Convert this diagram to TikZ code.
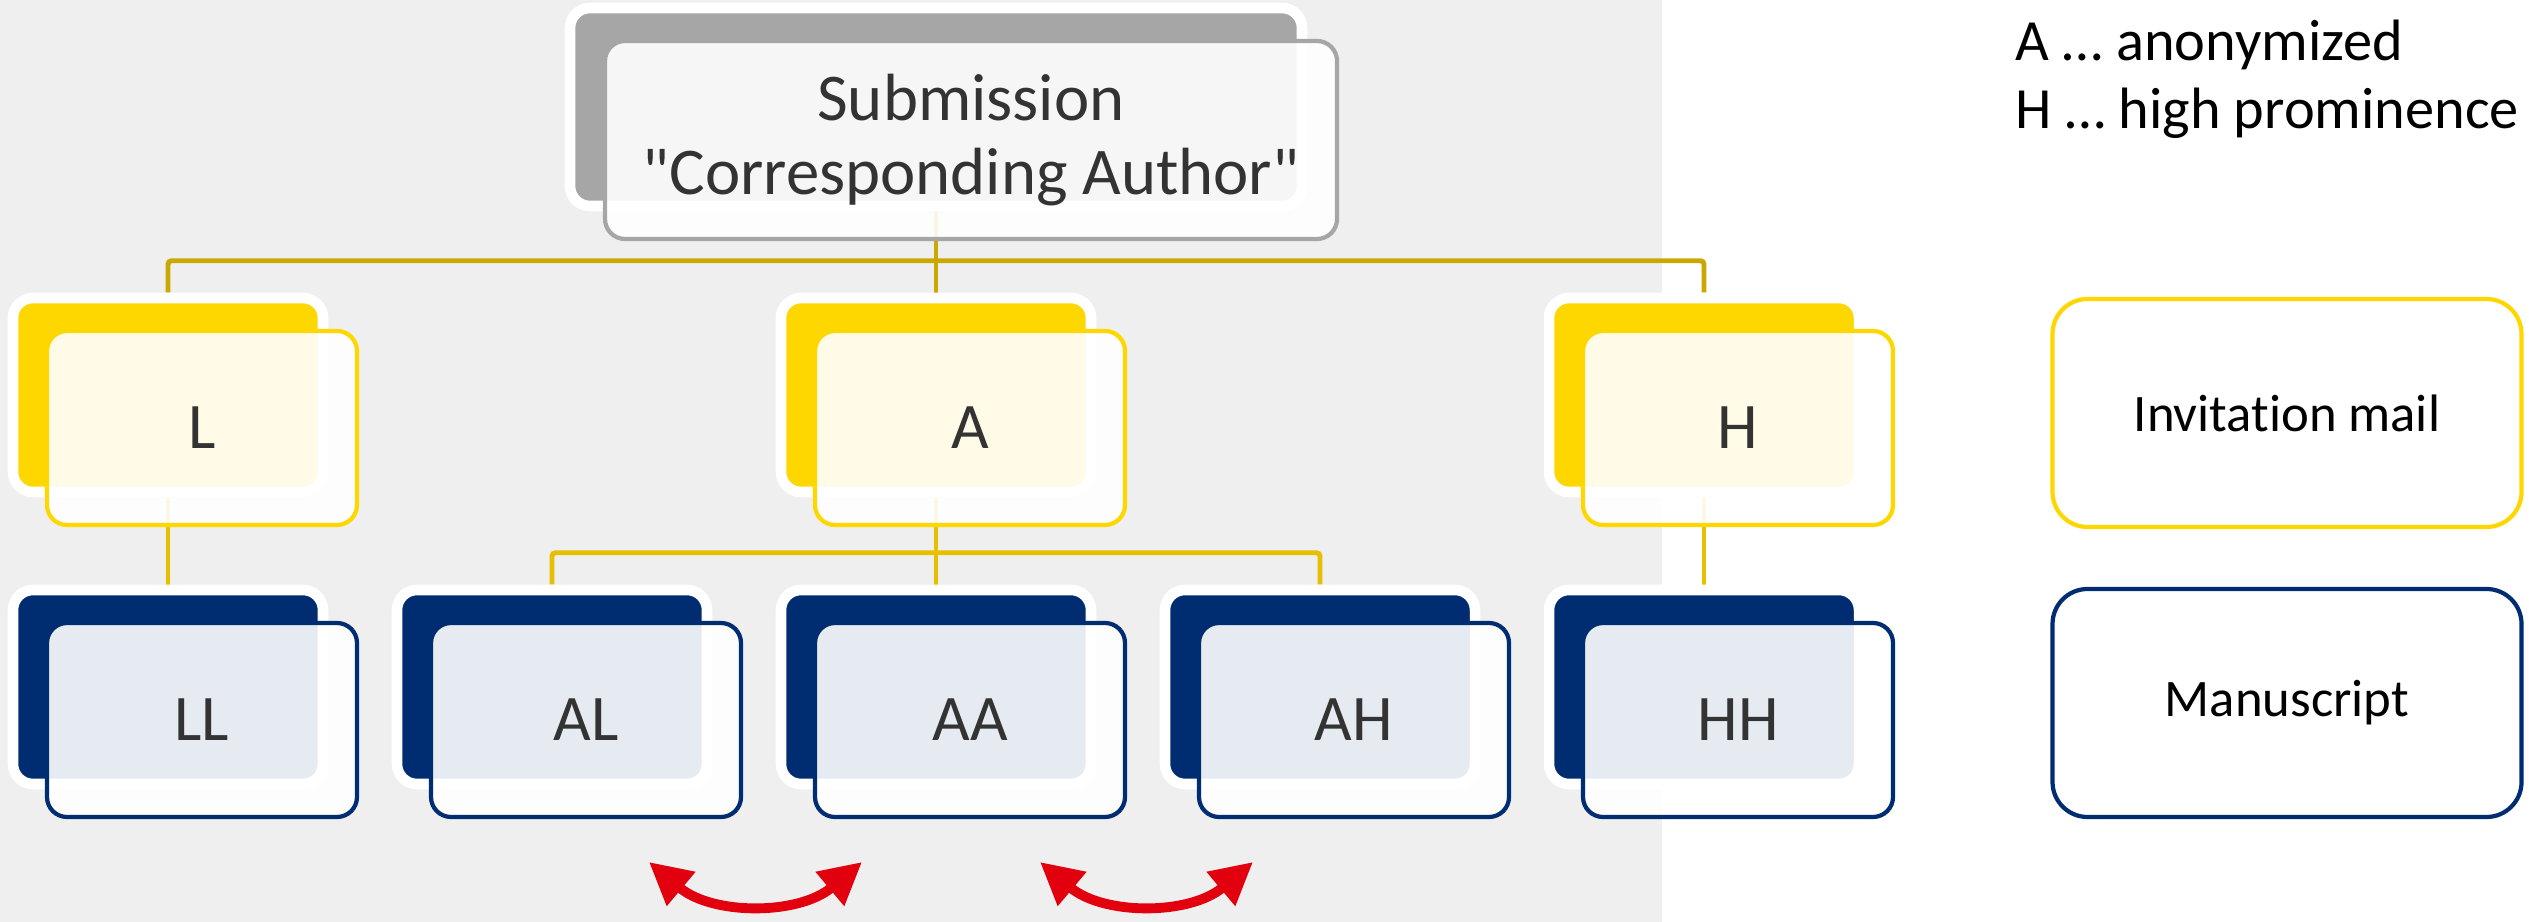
\documentclass[tikz,border=0pt]{standalone}
\usepackage{fontspec}
\setmainfont{Carlito}[Ligatures={TeXOff,CommonOff}]
\usepackage{tikz}
\usetikzlibrary{arrows.meta,positioning}
\definecolor{bggrey}{HTML}{EFEFEF}
\definecolor{gold}{HTML}{FFD700}
\definecolor{navy}{HTML}{002D72}
\definecolor{stone}{HTML}{A6A6A6}
\definecolor{linkdark}{HTML}{C9A800}
\definecolor{linklight}{HTML}{E6BF00}
\definecolor{swapred}{HTML}{E2000F}
\definecolor{ink}{HTML}{333333}
\pgfdeclarelayer{back}
\pgfdeclarelayer{wires}
\pgfsetlayers{back,wires,main}
\tikzset{
  backbox/.style={draw=white, line width=3pt, rounded corners=0.2cm, inner sep=0pt,
    minimum width=3.1cm, minimum height=1.94cm},
  mailback/.style={backbox, fill=gold},
  docback/.style={backbox, fill=navy},
  topback/.style={backbox, fill=stone, minimum width=7.32cm, minimum height=1.98cm},
  frontbox/.style={fill=white, fill opacity=0.9, text opacity=1, line width=1.2pt,
    rounded corners=0.2cm, inner sep=0pt, minimum width=3.1cm, minimum height=1.94cm,
    text=ink, font=\fontsize{18.5}{22}\selectfont},
  mailfront/.style={frontbox, draw=gold},
  docfront/.style={frontbox, draw=navy},
  topfront/.style={frontbox, draw=stone, minimum width=7.32cm, minimum height=1.98cm,
    align=center, font=\fontsize{19}{21.3}\selectfont},
  link/.style={draw=linkdark, line width=1.4pt, rounded corners=1pt},
  sublink/.style={draw=linklight, line width=1.4pt, rounded corners=1pt},
  swaparrow/.style={draw=swapred, line width=2.8pt,
    arrows={Triangle[length=4.2mm,width=4.2mm]-Triangle[length=4.2mm,width=4.2mm]}},
  legbox/.style={fill=white, line width=1.2pt, rounded corners=0.35cm,
    minimum width=4.69cm, minimum height=2.28cm, font=\fontsize{15}{18}\selectfont},
}
\begin{document}
\begin{tikzpicture}
  \useasboundingbox (0,0) rectangle (25.29,-9.22);
  \begin{pgfonlayer}{back}
    \fill[bggrey] (0,0) rectangle (16.62,-9.22);
  \end{pgfonlayer}

  % submission
  \node[topback] (sub) at (9.36,-1.07) {};
  \node[topfront] (subt) at ([shift={(0.35,-0.33)}]sub) {Submission\\"Corresponding Author"};

  % invitation mails
  \node[mailback] (L) at (1.68,-3.95) {};
  \node[mailfront] (Lt) at ([shift={(0.34,-0.33)}]L) {L};
  \node[mailback] (A) at (9.36,-3.95) {};
  \node[mailfront] (At) at ([shift={(0.34,-0.33)}]A) {A};
  \node[mailback] (H) at (17.04,-3.95) {};
  \node[mailfront] (Ht) at ([shift={(0.34,-0.33)}]H) {H};

  % manuscripts
  \node[docback] (LL) at (1.68,-6.87) {};
  \node[docfront] (LLt) at ([shift={(0.34,-0.33)}]LL) {LL};
  \node[docback] (AL) at (5.52,-6.87) {};
  \node[docfront] (ALt) at ([shift={(0.34,-0.33)}]AL) {AL};
  \node[docback] (AA) at (9.36,-6.87) {};
  \node[docfront] (AAt) at ([shift={(0.34,-0.33)}]AA) {AA};
  \node[docback] (AH) at (13.20,-6.87) {};
  \node[docfront] (AHt) at ([shift={(0.34,-0.33)}]AH) {AH};
  \node[docback] (HH) at (17.04,-6.87) {};
  \node[docfront] (HHt) at ([shift={(0.34,-0.33)}]HH) {HH};

  \begin{pgfonlayer}{wires}
    \draw[link] (sub.south) -- (A.north);
    \draw[link] (L.north) -- ++(0,0.32) -| (H.north);
    \draw[sublink] (L.south) -- (LL.north);
    \draw[sublink] (A.south) -- (AA.north);
    \draw[sublink] (AL.north) -- ++(0,0.32) -| (AH.north);
    \draw[sublink] (H.south) -- (HH.north);
  \end{pgfonlayer}

  % swaps
  \coordinate (ex1) at (6.49,-8.62);
  \coordinate (ex2) at (8.62,-8.62);
  \coordinate (ex3) at (10.40,-8.62);
  \coordinate (ex4) at (12.53,-8.62);
  \draw[swaparrow] (ex1) to[bend right=40] (ex2);
  \draw[swaparrow] (ex3) to[bend right=40] (ex4);

  % legend
  \node[anchor=west, align=left, inner sep=0pt, font=\fontsize{16.6}{19.4}\selectfont] (key)
    at (20.15,-0.79) {A … anonymized\\H … high prominence};
  \node[legbox, draw=gold] (legmail) at (22.87,-4.13) {Invitation mail};
  \node[legbox, draw=navy] (legdoc) at (22.87,-7.03) {Manuscript};
\end{tikzpicture}
\end{document}
